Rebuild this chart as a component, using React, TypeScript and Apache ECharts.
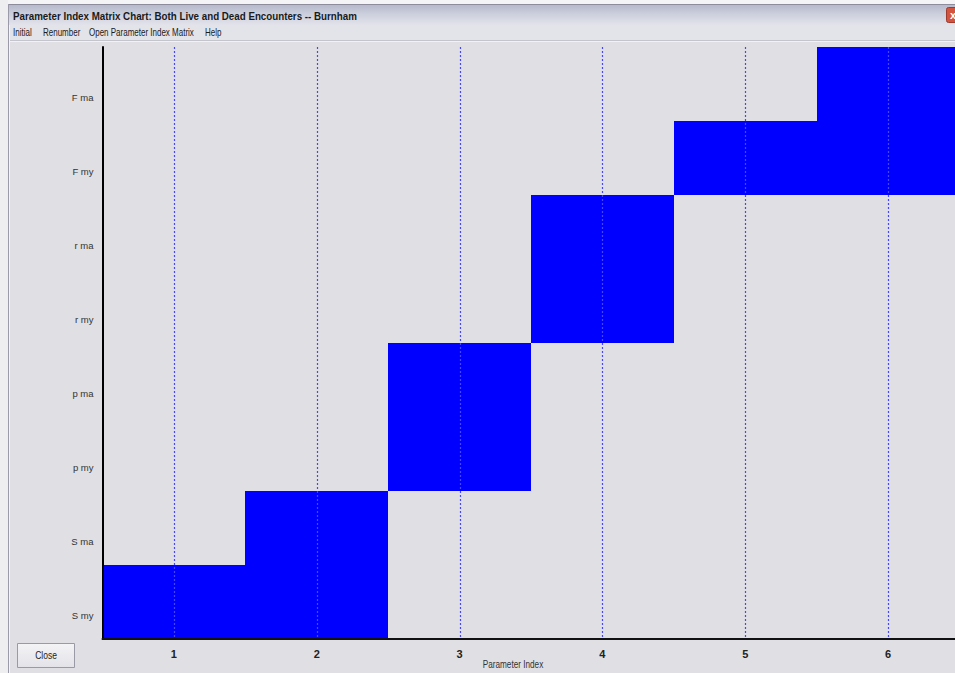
import React, { useEffect, useRef } from "react";
import * as echarts from "echarts";

const windowTitle = "Parameter Index Matrix Chart: Both Live and Dead Encounters -- Burnham";
const menuItems = ["Initial", "Renumber", "Open Parameter Index Matrix", "Help"];
const yCategories = ["S my", "S ma", "p my", "p ma", "r my", "r ma", "F my", "F ma"];
const xTicks = [1, 2, 3, 4, 5, 6];
const cellParams = [1, 2, 2, 3, 3, 4, 4, 5, 6, 6];
const cellRows = ["S my", "S my", "S ma", "p my", "p ma", "r my", "r ma", "F my", "F my", "F ma"];
const xAxisName = "Parameter Index";
const buttonLabel = "Close";

const FONT = "'Liberation Sans',Arial,sans-serif";

export default function App() {
  const ref = useRef<HTMLDivElement>(null);
  useEffect(() => {
    if (!ref.current) return;
    const chart = echarts.init(ref.current, null, { renderer: "svg" });
    const menuX = [13, 43, 89, 205];
    const option: any = {
      animation: false,
      backgroundColor: "#e0dfe3",
      grid: { left: 102.5, top: 47, height: 592, width: 857 },
      xAxis: {
        type: "value",
        min: 0.5,
        max: 6.5,
        interval: 0.5,
        z: 10,
        axisLine: { show: true, lineStyle: { color: "#111", width: 2 } },
        axisTick: { show: false },
        splitLine: { show: false },
        axisLabel: {
          margin: 9,
          fontFamily: FONT,
          fontSize: 11,
          fontWeight: "bold",
          color: "#222",
          showMinLabel: false,
          showMaxLabel: false,
          formatter: (v: number) => (Number.isInteger(v) && xTicks.includes(v) ? String(v) : ""),
        },
      },
      yAxis: {
        type: "category",
        data: yCategories,
        z: 10,
        axisLine: { show: true, lineStyle: { color: "#000", width: 2 } },
        axisTick: { show: false },
        splitLine: { show: false },
        axisLabel: {
          margin: 9,
          fontFamily: FONT,
          fontSize: 9.5,
          color: "#333",
          verticalAlign: "top",
          lineHeight: 26,
        },
      },
      series: [
        {
          type: "custom",
          z: 2,
          data: cellParams.map((p, i) => [p, cellRows[i]]),
          renderItem: (params: any, api: any) => {
            const x = api.value(0);
            const y = api.value(1);
            const p0 = api.coord([x - 0.5, y]);
            const sz = api.size([1, 1]);
            const x0 = Math.round(p0[0]);
            const x1 = Math.round(p0[0] + sz[0]);
            const y0 = Math.round(p0[1] - sz[1] / 2);
            const y1 = Math.round(p0[1] + sz[1] / 2);
            return {
              type: "rect",
              shape: { x: x0, y: y0, width: x1 - x0, height: y1 - y0 },
              style: { fill: "#0000ff" },
            };
          },
        },
        {
          type: "custom",
          z: 5,
          data: xTicks.map((t) => [t, yCategories[0]]),
          renderItem: (params: any, api: any) => {
            const p = api.coord([api.value(0), 0]);
            const cs = params.coordSys;
            const x = Math.round(p[0]) + 0.5;
            return {
              type: "line",
              shape: { x1: x, y1: cs.y, x2: x, y2: cs.y + cs.height },
              style: { stroke: "#4646ff", lineWidth: 1.2, lineDash: [2, 2] },
            };
          },
        },
      ],
      graphic: [
        { type: "rect", z: -5, shape: { x: 0, y: 0, width: 970, height: 4 }, style: { fill: "#f4f4f6" } },
        { type: "rect", z: -5, shape: { x: 0, y: 0, width: 8, height: 673 }, style: { fill: "#eeeef0" } },
        {
          type: "rect",
          z: -4,
          shape: { x: 9, y: 4, width: 960, height: 21 },
          style: {
            fill: new echarts.graphic.LinearGradient(0, 0, 0, 1, [
              { offset: 0, color: "#b4b7c9" },
              { offset: 0.5, color: "#cdd0dd" },
              { offset: 1, color: "#e2e3ea" },
            ]),
          },
        },
        { type: "line", z: -3, shape: { x1: 9, y1: 4.5, x2: 970, y2: 4.5 }, style: { stroke: "#8c8c9c", lineWidth: 1 } },
        { type: "rect", z: -4, shape: { x: 9, y: 25, width: 960, height: 15 }, style: { fill: "#e3e3ea" } },
        { type: "line", z: -3, shape: { x1: 9, y1: 40.5, x2: 970, y2: 40.5 }, style: { stroke: "#c4c4cc", lineWidth: 1 } },
        { type: "line", z: -3, shape: { x1: 9, y1: 41.5, x2: 970, y2: 41.5 }, style: { stroke: "#f2f2f5", lineWidth: 1 } },
        { type: "line", z: -3, shape: { x1: 8.5, y1: 4, x2: 8.5, y2: 673 }, style: { stroke: "#9a9aa8", lineWidth: 1 } },
        { type: "line", z: -3, shape: { x1: 9.5, y1: 25, x2: 9.5, y2: 673 }, style: { stroke: "#f4f4f6", lineWidth: 1 } },
        {
          type: "text",
          z: 1,
          x: 13,
          y: 16,
          scaleX: 0.85,
          style: { text: windowTitle, fontFamily: FONT, fontSize: 11.5, fontWeight: "bold", fill: "#1a1a1a", textVerticalAlign: "middle" },
        },
        {
          type: "rect",
          z: 1,
          shape: { x: 946.5, y: 7.5, width: 14, height: 15, r: 2 },
          style: { fill: "#d2533e", stroke: "#a03a2c", lineWidth: 1 },
        },
        { type: "text", z: 2, x: 950, y: 15, style: { text: "x", fontFamily: FONT, fontSize: 11, fontWeight: "bold", fill: "#fff", textVerticalAlign: "middle" } },
        ...menuItems.map((m, i) => ({
          type: "text",
          z: 1,
          x: menuX[i],
          y: 32.5,
          scaleX: 0.8,
          style: { text: m, fontFamily: FONT, fontSize: 10, fill: "#1a1a1a", textVerticalAlign: "middle" },
        })),
        {
          type: "rect",
          z: 1,
          shape: { x: 17.5, y: 643.5, width: 57, height: 24 },
          style: {
            fill: new echarts.graphic.LinearGradient(0, 0, 0, 1, [
              { offset: 0, color: "#f4f4f6" },
              { offset: 1, color: "#e2e2e8" },
            ]),
            stroke: "#9a9aa6",
            lineWidth: 1,
          },
        },
        {
          type: "text",
          z: 2,
          x: 46,
          y: 656,
          scaleX: 0.85,
          style: { text: buttonLabel, fontFamily: FONT, fontSize: 10, fill: "#222", textAlign: "center", textVerticalAlign: "middle" },
        },
        {
          type: "text",
          z: 1,
          x: 513,
          y: 665,
          scaleX: 0.82,
          style: { text: xAxisName, fontFamily: FONT, fontSize: 10, fill: "#333", textAlign: "center", textVerticalAlign: "middle" },
        },
      ],
    };
    chart.setOption(option);
    return () => chart.dispose();
  }, []);
  return (
    <div style={{ position: "fixed", left: 0, top: 0, width: 955, height: 673, overflow: "hidden" }}>
      <div ref={ref} style={{ width: 965, height: 673 }} />
    </div>
  );
}
